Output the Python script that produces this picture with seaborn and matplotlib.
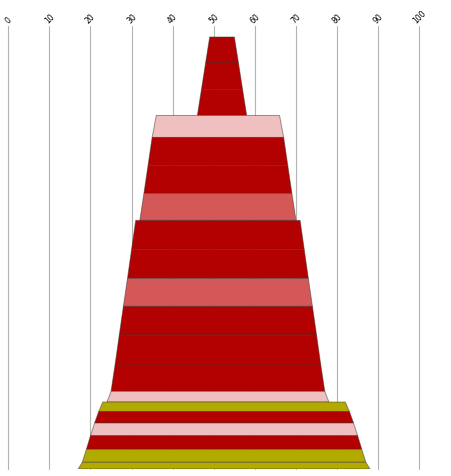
import numpy as np
import seaborn as sns
import matplotlib
matplotlib.use("Agg")
import matplotlib.pyplot as plt

# stacked bands, top to bottom: x range at the bottom edge of each band
band_low = [48, 47, 46, 35, 34, 33, 32, 30, 29, 28, 27, 26, 25, 24, 22, 21, 20, 19, 18, 17]
band_high = [56, 57, 58, 67, 68, 69, 70, 72, 73, 74, 75, 76, 77, 78, 83, 84, 85, 86, 87, 88]
band_height = [26, 26.5, 26, 22, 28, 28, 27, 29, 29, 28, 28.7, 29, 27.3,
               10.7, 9.5, 11.5, 12.7, 13.6, 13, 6.7]
band_kind = ['red', 'red', 'red', 'pink', 'red', 'red', 'salmon', 'red', 'red', 'salmon',
             'red', 'red', 'red', 'pink', 'olive', 'red', 'pink', 'red', 'olive', 'olive']
taper = 1  # each band narrows by this much at its top edge
x_ticks = list(range(0, 101, 10))

palette = {'red': '#b30000', 'pink': '#f0c0c0', 'salmon': '#d45858', 'olive': '#b3aa00'}

sns.set_theme(style="white")
plt.rcParams['font.family'] = ['DejaVu Sans']

fig = plt.figure(figsize=(4.52, 4.77), dpi=100)
ax = fig.add_axes([8.3 / 452, 7 / 477, 411 / 452, 443 / 477])

edges = np.concatenate([[0], np.cumsum(band_height)])
for i, kind in enumerate(band_kind):
    y0, y1 = edges[i], edges[i + 1]
    lo, hi = band_low[i], band_high[i]
    ax.fill([lo + taper, hi - taper, hi, lo], [y0, y0, y1, y1],
            facecolor=palette[kind], edgecolor=(0.25, 0.2, 0.2, 0.5),
            linewidth=0.7, zorder=3)

ax.set_xlim(0, 100)
ax.set_ylim(edges[-1], -11)
ax.set_xticks(x_ticks)
ax.set_xticklabels([str(t) for t in x_ticks])
ax.set_yticks([])
ax.xaxis.tick_top()
ax.tick_params(axis='x', length=0, pad=1.5, labelsize=5.5, colors='black')
for lab in ax.get_xticklabels():
    lab.set_rotation(45)
    lab.set_ha('center')
    lab.set_va('bottom')
ax.grid(axis='x', color='#b3b3b3', linewidth=0.8)
ax.grid(axis='y', visible=False)
for gl in ax.get_xgridlines():
    gl.set_clip_on(False)
for s in ax.spines.values():
    s.set_visible(False)
ax.set_facecolor('white')

fig.savefig('out.png', dpi=100)
